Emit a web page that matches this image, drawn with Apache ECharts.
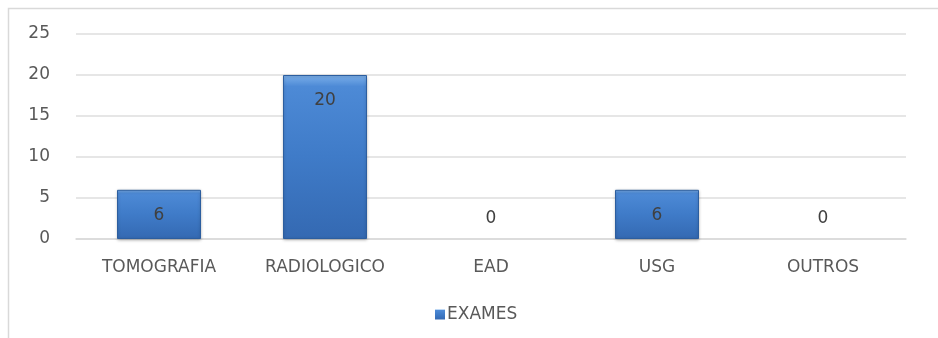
<!DOCTYPE html>
<html>
<head>
<meta charset="utf-8">
<script src="https://cdn.jsdelivr.net/npm/echarts@6/dist/echarts.min.js"></script>
<style>
  html, body { margin: 0; padding: 0; background: #ffffff; }
  #chart { width: 938px; height: 338px; }
</style>
</head>
<body>
<div id="chart"></div>
<script>
// Exam counts by type
const categories = ['TOMOGRAFIA', 'RADIOLOGICO', 'EAD', 'USG', 'OUTROS'];
const exames = [6, 20, 0, 6, 0];
const seriesName = 'EXAMES';
const yMin = 0, yMax = 25, yStep = 5;

const FONT = '"DejaVu Sans", "Liberation Sans", sans-serif';
const TEXT = '#595959';

// Bevelled blue fill for the columns
const barFill = new echarts.graphic.LinearGradient(0, 0, 0, 1, [
  { offset: 0, color: '#7cb0ea' },
  { offset: 0.07, color: '#4d8ad6' },
  { offset: 0.5, color: '#3f7bc8' },
  { offset: 1, color: '#3469b2' }
]);

const chart = echarts.init(document.getElementById('chart'), null, { renderer: 'canvas' });

chart.setOption({
  animation: false,
  backgroundColor: '#ffffff',
  graphic: [{
    type: 'rect',
    shape: { x: 8.5, y: 8.5, width: 940, height: 340 },
    style: { fill: 'none', stroke: '#d9d9d9', lineWidth: 1.5 },
    silent: true
  }],
  grid: { left: 76, right: 32, top: 34, bottom: 99 },
  legend: {
    data: [seriesName],
    left: 430,
    top: 301,
    itemWidth: 10,
    itemHeight: 10,
    icon: 'rect',
    itemGap: 4,
    itemStyle: { borderWidth: 0 },
    textStyle: { color: TEXT, fontSize: 17, fontFamily: FONT, padding: [0, 0, 0, -3] }
  },
  xAxis: {
    type: 'category',
    data: categories,
    axisLine: { show: true, lineStyle: { color: '#d9d9d9', width: 1.5 } },
    axisTick: { show: false },
    axisLabel: { color: TEXT, fontSize: 17, fontFamily: FONT, margin: 20 }
  },
  yAxis: {
    type: 'value',
    min: yMin,
    max: yMax,
    interval: yStep,
    axisLine: { show: false },
    axisTick: { show: false },
    axisLabel: { color: TEXT, fontSize: 17, fontFamily: FONT, margin: 26 },
    splitLine: { lineStyle: { color: '#dedede', width: 1.5 } }
  },
  series: [{
    name: seriesName,
    type: 'bar',
    barWidth: 84,
    data: exames.map(v => ({
      value: v,
      itemStyle: v === 0 ? { borderWidth: 0, shadowBlur: 0, shadowOffsetY: 0 } : {},
      label: v === 0
        ? { position: 'top', distance: 12 }
        : { position: 'insideTop', distance: 17 }
    })),
    itemStyle: {
      color: barFill,
      borderColor: '#2c5e9f',
      borderWidth: 1,
      shadowColor: 'rgba(0,0,0,0.25)',
      shadowBlur: 3,
      shadowOffsetY: 1
    },
    label: {
      show: true,
      color: '#404040',
      fontSize: 17,
      fontFamily: FONT
    }
  }]
});
</script>
</body>
</html>
